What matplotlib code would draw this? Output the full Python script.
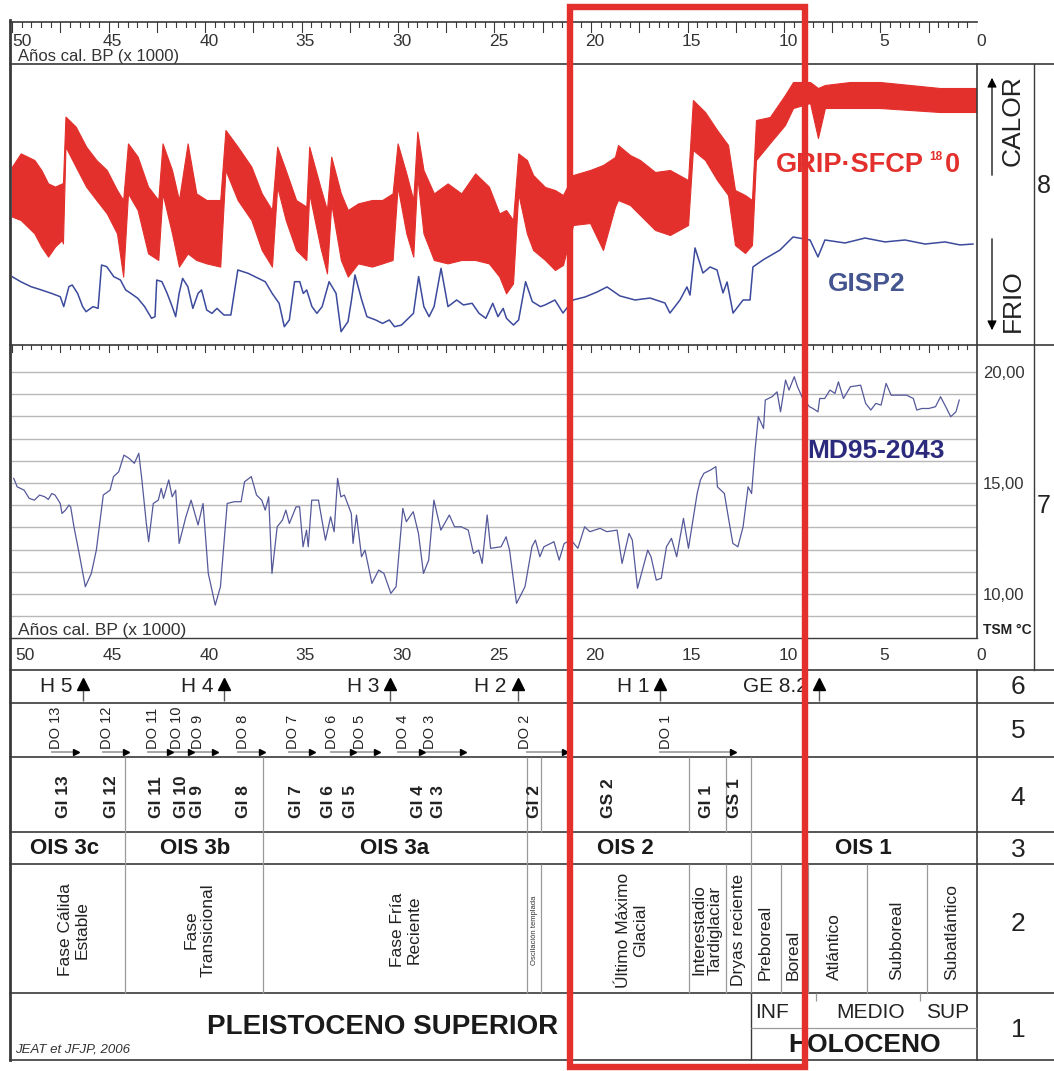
import numpy as np
import matplotlib.pyplot as plt
from matplotlib.patches import Rectangle

plt.rcParams['font.family'] = ['Liberation Sans', 'DejaVu Sans']

W, H = 1054, 1071

# ---------------- data ----------------
# GRIP d18O, upper (warm) and lower (cold) envelope of the noisy record, per mil
grip_age = [50.0, 49.55, 49.2, 48.84, 48.48, 48.13, 47.77, 47.41, 47.36, 47.23, 46.7, 46.16,
            45.63, 45.09, 44.56, 44.24, 43.99, 43.49, 42.95, 42.42, 42.2, 41.71, 41.35, 40.9,
            40.45, 39.92, 39.21, 38.94, 38.31, 37.6, 37.06, 36.53, 36.26, 35.82, 35.28, 34.75,
            34.6, 34.03, 33.68, 33.46, 32.96, 32.6, 32.07, 31.35, 30.82, 30.28, 30.02, 29.57,
            29.21, 29.0, 28.68, 28.14, 27.43, 26.72, 26.0, 25.29, 24.75, 24.4, 24.04, 23.77,
            23.32, 23.0, 22.38, 21.87, 21.45, 20.93, 20.05, 19.38, 18.76, 18.6, 17.98, 17.46,
            16.68, 15.91, 14.97, 14.72, 14.09, 13.47, 12.9, 12.54, 12.02, 11.66, 11.45, 10.73,
            9.95, 9.53, 8.65, 8.24, 7.88, 6.58, 5.03, 3.47, 1.92, 0.05]
grip_hi = [-38.58, -37.92, -38.08, -38.25, -38.75, -39.42, -39.58, -39.42, -39.42, -36.08, -36.58, -37.58,
           -38.25, -38.75, -39.75, -40.25, -37.42, -38.08, -39.58, -40.25, -37.42, -38.75, -40.25, -37.42,
           -39.92, -40.25, -40.25, -36.75, -37.58, -38.58, -39.92, -40.75, -37.58, -38.75, -40.25, -40.58,
           -37.58, -39.58, -40.75, -38.08, -39.92, -40.75, -40.42, -40.25, -40.25, -39.92, -37.42, -38.92,
           -40.25, -36.83, -38.75, -39.92, -39.42, -39.92, -38.92, -39.58, -40.92, -40.75, -41.25, -37.92,
           -38.25, -39.0, -39.6, -39.75, -40.0, -39.0, -38.75, -38.5, -38.1, -37.5, -38.0, -38.25,
           -38.85, -38.75, -39.25, -35.25, -35.85, -36.75, -37.5, -39.75, -40.0, -40.25, -36.25, -36.1,
           -35.0, -34.35, -34.35, -34.65, -34.5, -34.35, -34.35, -34.5, -34.65, -34.65]
grip_lo = [-41.08, -41.25, -41.58, -41.92, -42.58, -43.08, -42.58, -42.25, -42.42, -37.58, -38.58, -39.58,
           -40.25, -40.92, -41.92, -44.08, -39.92, -40.75, -42.92, -43.25, -39.92, -41.92, -43.58, -42.92,
           -43.25, -43.42, -43.58, -38.75, -40.25, -41.25, -42.75, -43.58, -39.58, -41.25, -42.75, -43.25,
           -39.92, -42.58, -43.92, -40.42, -43.25, -44.08, -43.42, -43.58, -43.42, -43.25, -39.58, -41.92,
           -43.08, -39.08, -41.92, -43.25, -43.42, -43.25, -43.25, -43.42, -44.08, -44.92, -44.42, -39.92,
           -41.92, -42.75, -43.25, -43.75, -43.5, -41.5, -41.4, -42.75, -40.6, -40.25, -40.5, -41.0,
           -41.75, -42.0, -41.5, -37.75, -38.25, -39.25, -40.0, -42.5, -42.9, -42.5, -38.25, -37.4,
           -36.5, -35.65, -35.4, -37.15, -35.65, -35.65, -35.65, -35.75, -35.85, -35.85]

# GISP2 d18O, per mil
gisp_age = [50.0, 49.55, 49.02, 48.48, 47.95, 47.5, 47.32, 47.05, 46.88, 46.6, 46.34, 46.16, 45.8,
            45.54, 45.36, 45.09, 44.73, 44.38, 44.11, 43.84, 43.48, 43.13, 42.77, 42.59, 42.5, 42.23,
            41.96, 41.7, 41.52, 41.34, 41.16, 40.89, 40.63, 40.36, 40.18, 39.91, 39.64, 39.38, 39.02,
            38.66, 38.3, 37.77, 37.23, 36.88, 36.52, 36.16, 35.89, 35.63, 35.36, 35.09, 34.91, 34.73,
            34.46, 34.2, 33.93, 33.57, 33.21, 32.95, 32.59, 32.41, 32.23, 31.88, 31.61, 31.16, 30.8,
            30.45, 30.18, 29.82, 29.46, 29.2, 28.93, 28.66, 28.39, 28.13, 27.77, 27.41, 26.96, 26.61,
            26.16, 25.8, 25.45, 25.09, 24.82, 24.55, 24.38, 24.02, 23.75, 23.39, 23.04, 22.62, 22.38,
            21.87, 21.45, 20.93, 20.31, 19.69, 19.17, 18.5, 17.72, 16.94, 16.17, 15.91, 15.39, 15.03,
            14.87, 14.61, 14.2, 13.83, 13.47, 13.16, 12.95, 12.64, 12.12, 11.76, 11.61, 11.09, 10.21,
            9.53, 8.65, 8.24, 7.88, 6.84, 5.8, 4.77, 3.73, 2.69, 1.66, 0.88, 0.21]
gisp_val = [-37.44, -37.78, -38.11, -38.33, -38.56, -38.78, -39.44, -38.11, -38.0, -38.56, -39.44, -39.78, -39.44,
            -39.56, -36.67, -36.78, -37.44, -37.67, -38.33, -38.56, -38.89, -39.44, -40.22, -40.11, -37.67, -37.78,
            -38.56, -39.44, -40.11, -38.56, -37.56, -38.11, -39.56, -38.56, -38.33, -39.67, -39.89, -39.56, -40.0,
            -40.0, -37.0, -37.22, -37.56, -37.78, -38.56, -39.22, -40.78, -40.33, -37.78, -37.78, -38.56, -38.33,
            -39.44, -39.89, -39.44, -37.78, -38.56, -41.11, -40.44, -39.0, -37.33, -39.0, -40.11, -40.33, -40.56,
            -40.33, -40.78, -40.67, -40.22, -39.89, -37.44, -39.44, -40.11, -39.44, -36.89, -39.44, -39.0, -39.33,
            -39.22, -39.89, -40.22, -39.22, -40.11, -39.56, -40.22, -40.67, -40.33, -37.78, -39.11, -39.44, -39.33,
            -39.0, -39.87, -39.0, -38.8, -38.47, -38.13, -38.73, -39.0, -38.87, -39.2, -39.87, -39.0, -38.13,
            -38.67, -35.53, -37.2, -36.8, -37.0, -38.53, -37.8, -39.87, -39.0, -39.0, -36.8, -36.33, -35.67,
            -34.8, -35.0, -36.13, -35.0, -35.2, -34.87, -35.13, -35.0, -35.27, -35.13, -35.33, -35.27]

# MD95-2043 sea surface temperature, deg C
md_age = [49.91, 49.73, 49.37, 49.11, 48.84, 48.57, 48.3, 48.12, 47.94, 47.77, 47.5, 47.41, 47.23, 47.05,
          46.96, 46.79, 46.52, 46.2, 45.89, 45.63, 45.27, 44.92, 44.74, 44.47, 44.2, 43.93, 43.66, 43.43,
          43.27, 43.04, 42.92, 42.68, 42.42, 42.27, 42.15, 41.88, 41.7, 41.52, 41.34, 40.99, 40.72, 40.36,
          40.1, 39.83, 39.47, 39.2, 38.85, 38.49, 38.13, 37.95, 37.6, 37.33, 37.06, 36.88, 36.7, 36.53,
          36.26, 35.99, 35.81, 35.63, 35.28, 35.1, 34.92, 34.74, 34.65, 34.47, 34.12, 33.76, 33.49, 33.31,
          33.13, 32.96, 32.78, 32.42, 32.33, 32.15, 31.89, 31.71, 31.35, 31.0, 30.73, 30.37, 30.1, 29.75,
          29.57, 29.21, 28.94, 28.68, 28.41, 28.14, 27.78, 27.34, 27.07, 26.72, 26.36, 26.09, 25.82, 25.64,
          25.38, 25.2, 24.66, 24.4, 24.22, 23.86, 23.42, 23.06, 22.88, 22.65, 22.44, 22.09, 21.92, 21.65,
          21.39, 21.03, 20.68, 20.33, 20.06, 19.53, 19.18, 18.65, 18.39, 18.03, 17.86, 17.59, 17.06, 16.89,
          16.62, 16.36, 16.09, 15.83, 15.56, 15.21, 14.95, 14.5, 14.33, 14.15, 13.8, 13.53, 13.45, 13.09,
          12.83, 12.65, 12.39, 12.12, 11.86, 11.68, 11.5, 11.33, 11.06, 10.97, 10.62, 10.36, 10.18, 9.92,
          9.74, 9.47, 9.3, 9.03, 8.68, 8.5, 8.24, 8.15, 7.89, 7.62, 7.36, 7.18, 6.92, 6.56, 6.03, 5.77,
          5.5, 5.24, 4.97, 4.71, 4.45, 4.09, 3.65, 3.3, 3.12, 2.86, 2.5, 2.15, 1.89, 1.62, 1.36, 1.09, 0.92]
md_tsm = [15.21, 14.83, 14.68, 14.31, 14.23, 14.46, 14.38, 14.26, 14.53, 14.46, 14.08, 13.63, 13.78, 14.01,
          13.93, 13.03, 11.83, 10.33, 10.93, 11.98, 14.46, 14.68, 15.29, 15.51, 16.26, 16.11, 15.89, 16.34,
          15.14, 13.18, 12.36, 14.08, 14.23, 14.76, 14.31, 15.14, 14.38, 14.68, 12.28, 13.48, 14.23, 13.11,
          14.08, 10.93, 9.5, 10.33, 14.08, 14.16, 14.16, 15.06, 15.29, 14.46, 14.23, 13.78, 14.38, 10.93,
          13.03, 13.33, 13.78, 13.18, 13.93, 13.93, 12.13, 12.88, 12.13, 14.23, 14.23, 12.43, 13.48, 12.81,
          15.21, 14.38, 14.46, 13.63, 12.28, 13.56, 11.68, 11.98, 10.48, 11.08, 10.93, 10.03, 10.33, 13.86,
          13.26, 13.71, 12.73, 10.93, 11.53, 14.23, 12.88, 13.56, 13.03, 13.03, 12.88, 11.83, 11.98, 11.38,
          13.56, 12.06, 12.13, 12.58, 11.98, 9.58, 10.33, 12.13, 12.43, 11.68, 12.13, 12.28, 12.36, 11.53,
          12.28, 12.43, 12.06, 13.03, 12.81, 12.96, 12.81, 12.88, 11.38, 12.73, 12.43, 10.26, 11.98, 11.68,
          10.63, 10.71, 12.13, 12.51, 11.68, 13.41, 12.06, 14.53, 15.14, 15.44, 15.59, 15.74, 14.83, 14.53,
          13.18, 12.28, 12.13, 13.03, 14.83, 14.53, 16.49, 17.99, 17.46, 18.74, 18.89, 19.11, 18.21, 19.64,
          19.19, 19.79, 19.34, 18.81, 18.44, 18.36, 18.21, 18.81, 18.81, 19.19, 19.04, 19.56, 18.81, 19.34,
          19.41, 18.59, 18.29, 18.59, 18.51, 19.49, 18.96, 18.96, 18.96, 18.81, 18.29, 18.36, 18.36, 18.44,
          18.89, 18.44, 17.99, 18.21, 18.74]

# events and stages (ka cal BP)
h_names = ['H 5', 'H 4', 'H 3', 'H 2', 'H 1', 'GE 8.2']
h_age = [46.3, 39.0, 30.4, 23.8, 16.4, 8.2]

do_names = ['DO 13', 'DO 12', 'DO 11', 'DO 10', 'DO 9', 'DO 8', 'DO 7', 'DO 6', 'DO 5',
            'DO 4', 'DO 3', 'DO 2', 'DO 1']
do_label_age = [47.72, 45.08, 42.69, 41.45, 40.36, 38.03, 35.44, 33.42, 31.97, 29.74, 28.34, 23.42, 16.11]
do_start = [47.93, 45.28, 42.95, 41.71, 40.62, 38.29, 35.65, 33.47, 32.18, 30.0, 28.5, 23.32, 16.42]
do_end = [46.68, 44.09, 41.81, 40.73, 39.48, 37.05, 34.46, 32.33, 31.09, 28.76, 26.63, 21.35, 12.64]

gi_names = ['GI 13', 'GI 12', 'GI 11', 'GI 10', 'GI 9', 'GI 8', 'GI 7', 'GI 6', 'GI 5', 'GI 4',
            'GI 3', 'GI 2', 'GS 2', 'GI 1', 'GS 1']
gi_age = [47.31, 44.82, 42.49, 41.24, 40.41, 38.03, 35.28, 33.58, 32.44, 28.96, 27.88, 22.95,
          19.07, 14.04, 12.54]
gi_bounds = [44.15, 37.0, 23.3, 22.6, 14.9, 13.0, 11.7]

ois_names = ['OIS 3c', 'OIS 3b', 'OIS 3a', 'OIS 2', 'OIS 1']
ois_age = [47.3, 40.5, 30.16, 18.2, 5.9]
ois_bounds = [44.15, 37.0, 23.3, 11.7]

phase_names = ['Fase Cálida\nEstable', 'Fase\nTransicional', 'Fase Fría\nReciente',
               'Oscilación templada', 'Último Máximo\nGlacial', 'Interestadio\nTardiglaciar',
               'Dryas reciente', 'Preboreal', 'Boreal', 'Atlántico', 'Subboreal', 'Subatlántico']
phase_age = [46.8, 40.26, 29.59, 22.95, 17.88, 13.99, 12.38, 10.98, 9.53, 7.41, 4.15, 1.3]
phase_bounds = [44.15, 37.0, 23.3, 22.6, 14.9, 13.0, 11.7, 10.15, 8.75, 5.7, 2.6]

holo_start = 11.7
holo_parts = ['INF', 'MEDIO', 'SUP']
holo_part_age = [10.62, 5.49, 1.5]
holo_part_bounds = [8.34, 2.95]

focus_window = (8.9, 21.1)

# ---------------- figure ----------------
fig = plt.figure(figsize=(W / 100, H / 100), dpi=100)

RED = '#e3302c'
BLUE = '#3c4a9c'
NAVY = '#2b2a7c'
LINE = '#3a3a3a'
THIN = '#9a9a9a'

# panel 8: ice cores
ax8 = fig.add_axes([12 / W, (H - 345) / H, 965 / W, 281 / H])
ax8.set_xlim(50, 0)
ax8.set_ylim(-47.5, -33.45)
ax8.axis('off')
ax8.fill_between(grip_age, grip_lo, grip_hi, color=RED, lw=0.8)
ax8b = ax8.twinx()
ax8b.set_xlim(50, 0)
ax8b.set_ylim(-42.0, -23.27)
ax8b.axis('off')
ax8b.plot(gisp_age, gisp_val, color=BLUE, lw=1.1)

# panel 7: MD95-2043 SST
ax7 = fig.add_axes([12 / W, (H - 638) / H, 965 / W, 293 / H])
ax7.set_facecolor('none')
ax7.set_xlim(50, 0)
ax7.set_ylim(8.02, 21.22)
for s in ax7.spines.values():
    s.set_visible(False)
ax7.set_xticks([])
ax7.set_yticks([10, 15, 20])
ax7.set_yticklabels(['10,00', '15,00', '20,00'])
ax7.set_yticks(np.arange(9, 21), minor=True)
ax7.yaxis.tick_right()
ax7.tick_params(axis='y', which='both', length=0, pad=4.5, labelsize=12, labelcolor='#333333')
ax7.grid(axis='y', which='both', color='#b8b8b8', lw=1.0)
ax7.set_axisbelow(True)
ax7.plot(md_age, md_tsm, color='#55599a', lw=0.9)

# frame in pixel coordinates
ax_f = fig.add_axes([0, 0, 1, 1])
ax_f.set_xlim(0, W)
ax_f.set_ylim(H, 0)
ax_f.axis('off')

ax_f.plot([10, 10], [20, 1060], color=LINE, lw=2)
ax_f.plot([10, 977], [22, 22], color=LINE, lw=1.2)
for yy in [64, 345, 670, 703, 757, 832, 864, 993, 1060]:
    ax_f.plot([10, W], [yy, yy], color=LINE, lw=1.2)
ax_f.plot([10, 977], [638, 638], color=LINE, lw=1.0)
ax_f.plot([977, 977], [64, 638], color=LINE, lw=1.2)
ax_f.plot([977, 977], [670, 1060], color=LINE, lw=1.2)
ax_f.plot([1034, 1034], [64, 670], color=LINE, lw=1.0)

ax_f.text(1013, 121, 'CALOR', rotation=90, ha='center', va='center', fontsize=19, color='#222222')
ax_f.text(1013, 301, 'FRIO', rotation=90, ha='center', va='center', fontsize=19, color='#222222')
ax_f.annotate('', xy=(992, 75), xytext=(992, 178),
              arrowprops=dict(arrowstyle='-|>', color='black', lw=0.9, mutation_scale=14))
ax_f.annotate('', xy=(992, 333), xytext=(992, 236),
              arrowprops=dict(arrowstyle='-|>', color='black', lw=0.9, mutation_scale=14))
ax_f.text(1044, 186, '8', ha='center', va='center', fontsize=18, color='#222222')
ax_f.text(1044, 506, '7', ha='center', va='center', fontsize=18, color='#222222')
ax_f.text(983, 630, 'TSM °C', ha='left', va='center', fontsize=10, fontweight='bold', color='#222222')

for num, yy in zip(['6', '5', '4', '3', '2', '1'], [687, 731, 798, 850, 924, 1030]):
    ax_f.text(1018, yy, num, ha='center', va='center', fontsize=19, color='#222222')

# curve labels
ax_f.text(776, 165, 'GRIP·SFCP', ha='left', va='center', fontsize=19.5, fontweight='bold', color=RED)
ax_f.text(929, 157, '18', ha='left', va='center', fontsize=8.5, fontweight='bold', color=RED)
ax_f.text(945, 165, '0', ha='left', va='center', fontsize=19.5, fontweight='bold', color=RED)
ax_f.text(828, 284, 'GISP2', ha='left', va='center', fontsize=19, fontweight='bold', color='#44558f')
ax_f.text(807, 451, 'MD95-2043', ha='left', va='center', fontsize=19, fontweight='bold', color=NAVY)

# timeline axes: x in ka, y in pixels
ax_t = fig.add_axes([12 / W, 0, 965 / W, 1])
ax_t.set_xlim(50, 0)
ax_t.set_ylim(H, 0)
ax_t.axis('off')

# age ticks and labels
for t in np.arange(0, 50.01, 0.5):
    long = abs(t / 2.5 - round(t / 2.5)) < 1e-6
    ln = 10 if long else 5
    ax_t.plot([t, t], [22, 22 + ln], color=LINE, lw=0.8)
    ax_t.plot([t, t], [345, 345 + ln * 0.7], color=LINE, lw=0.8)
for t in range(0, 51, 5):
    ha = 'left' if t == 50 else 'center'
    ax_t.text(t - 0.2 if t != 50 else t, 42, str(t), ha=ha, va='center', fontsize=12.5, color='#333333')
    ax_t.text(t - 0.2 if t != 50 else t - 0.15, 655, str(t), ha=ha, va='center', fontsize=12.5,
              color='#333333')
ax_t.text(49.7, 56, 'Años cal. BP (x 1000)', ha='left', va='center', fontsize=12, color='#333333')
ax_t.text(49.7, 630, 'Años cal. BP (x 1000)', ha='left', va='center', fontsize=12.5, color='#333333')

# row 6: Heinrich events
ax_t.vlines(h_age, 688, 701, color='#555555', lw=1.0)
ax_t.plot(h_age, [684] * len(h_age), '^', color='black', ms=8.5)
for name, a in zip(h_names, h_age):
    ax_t.annotate(name, xy=(a, 686), xytext=(-11, 0), textcoords='offset pixels',
                  ha='right', va='center', fontsize=15, color='#222222')

# row 5: DO events
for s, e in zip(do_start, do_end):
    ax_t.plot([s, e], [752, 752], color='#a0a0a0', lw=1.3)
ax_t.plot(do_end, [752] * len(do_end), '>', color='black', ms=5)
for name, a in zip(do_names, do_label_age):
    ax_t.text(a, 749, name, rotation=90, ha='center', va='bottom', fontsize=10.5, color='#222222')

# row 4: GI / GS
ax_t.vlines(gi_bounds, 757, 832, color=THIN, lw=0.9)
for name, a in zip(gi_names, gi_age):
    ax_t.text(a, 818, name, rotation=90, ha='center', va='bottom', fontsize=12.5,
              fontweight='bold', color='#222222')

# row 3: OIS
ax_t.vlines(ois_bounds, 832, 864, color=THIN, lw=0.9)
for name, a in zip(ois_names, ois_age):
    ax_t.text(a, 849, name, ha='center', va='center', fontsize=16, fontweight='bold', color='#1a1a1a')

# row 2: climatic phases
ax_t.vlines(phase_bounds, 864, 993, color=THIN, lw=0.9)
for i, (name, a) in enumerate(zip(phase_names, phase_age)):
    if name == 'Oscilación templada':
        ax_t.text(a, 930, name, rotation=90, ha='center', va='center', fontsize=5.5, color='#333333')
    elif i >= 7:
        ax_t.text(a, 980, name, rotation=90, ha='center', va='bottom', fontsize=12.5, color='#222222')
    else:
        ax_t.text(a, 930, name, rotation=90, ha='center', va='center', fontsize=12.5,
                  color='#222222', multialignment='center', linespacing=1.15)

# row 1: Pleistocene / Holocene
ax_t.vlines(holo_start, 993, 1060, color=LINE, lw=1.0)
ax_t.hlines(1028, holo_start, 0, color=THIN, lw=0.9)
ax_t.vlines(holo_part_bounds, 993, 1001, color=THIN, lw=0.9)
for name, a in zip(holo_parts, holo_part_age):
    ax_t.text(a, 1012, name, ha='center', va='center', fontsize=15, color='#222222')
ax_t.text(5.8, 1045, 'HOLOCENO', ha='center', va='center', fontsize=19, fontweight='bold', color='#1a1a1a')
ax_t.text(30.8, 1027, 'PLEISTOCENO SUPERIOR', ha='center', va='center', fontsize=20,
          fontweight='bold', color='#1a1a1a')
ax_t.text(49.85, 1049, 'JEAT et JFJP, 2006', ha='left', va='center', fontsize=9.5,
          style='italic', color='#333333')

# highlighted window
ax_t.add_patch(Rectangle((focus_window[0], 7), focus_window[1] - focus_window[0], 1060,
                         fill=False, ec=RED, lw=4.6, zorder=10, clip_on=False))

fig.savefig('out.png', dpi=100)
